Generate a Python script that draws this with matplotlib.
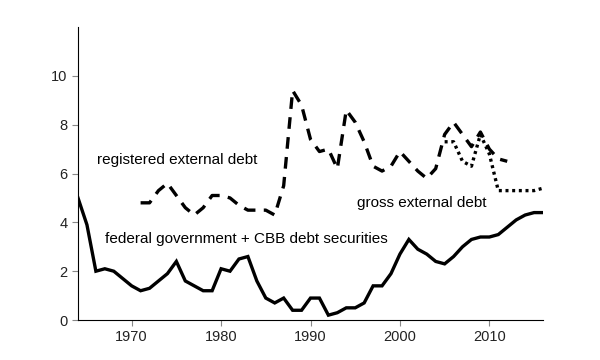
import matplotlib.pyplot as plt
import numpy as np

plt.rcParams['font.family'] = ['Liberation Sans', 'DejaVu Sans']

# federal government + CBB debt securities (1964-2016)
years_fed = list(range(1964, 2017))
fed = [5.0, 3.9, 2.0, 2.1, 2.0, 1.7, 1.4, 1.2, 1.3, 1.6,
       1.9, 2.4, 1.6, 1.4, 1.2, 1.2, 2.1, 2.0, 2.5, 2.6,
       1.6, 0.9, 0.7, 0.9, 0.4, 0.4, 0.9, 0.9, 0.2, 0.3,
       0.5, 0.5, 0.7, 1.4, 1.4, 1.9, 2.7, 3.3, 2.9, 2.7,
       2.4, 2.3, 2.6, 3.0, 3.3, 3.4, 3.4, 3.5, 3.8, 4.1,
       4.3, 4.4, 4.4]

# registered external debt (1971-2012)
years_reg = list(range(1971, 2013))
reg = [4.8, 4.8, 5.3, 5.6, 5.1, 4.6, 4.3, 4.6, 5.1, 5.1,
       5.0, 4.7, 4.5, 4.5, 4.5, 4.3, 5.5, 9.4, 8.8, 7.4,
       6.9, 7.0, 6.2, 8.6, 8.1, 7.3, 6.3, 6.1, 6.3, 6.9,
       6.5, 6.1, 5.8, 6.2, 7.6, 8.1, 7.6, 7.1, 7.7, 7.0,
       6.6, 6.5]

# gross external debt (2005-2016)
years_gross = list(range(2005, 2017))
gross = [7.3, 7.3, 6.5, 6.3, 7.6, 6.8, 5.3, 5.3, 5.3, 5.3, 5.3, 5.4]

fig = plt.figure(figsize=(6, 3.6), dpi=100)
ax = fig.add_axes([0.13, 0.111, 0.775, 0.814])

ax.plot(years_fed, fed, color='black', linewidth=2.4, solid_joinstyle='miter')
ax.plot(years_reg, reg, color='black', linewidth=2.4, linestyle=(0, (3.5, 2.5)))
ax.plot(years_gross, gross, color='black', linewidth=2.4, linestyle=(0, (0.9, 1.1)))

ax.text(1966.1, 6.55, 'registered external debt', fontsize=11, va='center')
ax.text(1995.2, 4.8, 'gross external debt', fontsize=11, va='center')
ax.text(1967.0, 3.3, 'federal government + CBB debt securities', fontsize=11, va='center')

ax.set_xlim(1964, 2016)
ax.set_ylim(0, 12)
ax.set_xticks([1970, 1980, 1990, 2000, 2010])
ax.set_yticks([0, 2, 4, 6, 8, 10])

ax.spines['top'].set_visible(False)
ax.spines['right'].set_visible(False)
ax.tick_params(colors='#888888', labelcolor='#222222', labelsize=10.5, length=4, width=0.8)

fig.savefig('out.png', dpi=100)
